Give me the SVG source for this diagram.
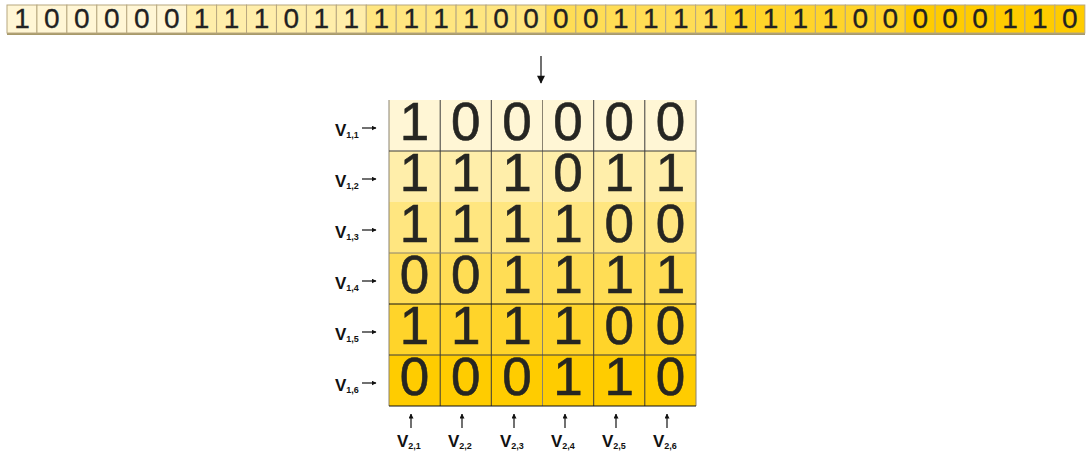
<svg xmlns="http://www.w3.org/2000/svg" width="1087" height="454" viewBox="0 0 1087 454">
<defs>
<style>
.c1{fill:#fff6d5}.c2{fill:#ffeeaa}.c3{fill:#ffe680}.c4{fill:#ffdd55}.c5{fill:#ffd42a}.c6{fill:#ffcc00}
.sc{stroke:#b8a880;stroke-width:1}
.mc{stroke:#3a3a3a;stroke-width:1}
.sd{font-family:"Liberation Sans",Arial,sans-serif;font-size:28px;fill:#222;stroke:#222;stroke-width:0.3;text-anchor:middle}
.md{font-family:"Liberation Sans",Arial,sans-serif;font-size:53px;fill:#262622;stroke:#262622;stroke-width:0.6;text-anchor:middle}
.lb{font-family:"Liberation Sans",Arial,sans-serif;font-size:17px;font-weight:bold;fill:#111}
.sb{font-size:9px}
.ar{stroke:#111;stroke-width:1.2;fill:none}
</style>
<marker id="ah" viewBox="0 0 10 10" refX="9" refY="5" markerWidth="5" markerHeight="5" orient="auto" markerUnits="userSpaceOnUse"><path d="M0,0 L10,5 L0,10 z" fill="#111"/></marker>
<marker id="ahb" viewBox="0 0 10 10" refX="9" refY="5" markerWidth="9" markerHeight="8" orient="auto" markerUnits="userSpaceOnUse"><path d="M0,0 L10,5 L0,10 z" fill="#111"/></marker>
</defs>

<g id="strip">
<rect x="7" y="33" width="1078" height="2" fill="#a89a6a"/>
<g class="sc">
<rect class="c1" x="7" y="5" width="29.94" height="28"/><rect class="c1" x="36.94" y="5" width="29.94" height="28"/><rect class="c1" x="66.88" y="5" width="29.94" height="28"/><rect class="c1" x="96.82" y="5" width="29.94" height="28"/><rect class="c1" x="126.76" y="5" width="29.94" height="28"/><rect class="c1" x="156.7" y="5" width="29.94" height="28"/>
<rect class="c2" x="186.64" y="5" width="29.94" height="28"/><rect class="c2" x="216.58" y="5" width="29.94" height="28"/><rect class="c2" x="246.52" y="5" width="29.94" height="28"/><rect class="c2" x="276.46" y="5" width="29.94" height="28"/><rect class="c2" x="306.4" y="5" width="29.94" height="28"/><rect class="c2" x="336.34" y="5" width="29.94" height="28"/>
<rect class="c3" x="366.28" y="5" width="29.94" height="28"/><rect class="c3" x="396.22" y="5" width="29.94" height="28"/><rect class="c3" x="426.16" y="5" width="29.94" height="28"/><rect class="c3" x="456.1" y="5" width="29.94" height="28"/><rect class="c3" x="486.04" y="5" width="29.94" height="28"/><rect class="c3" x="515.98" y="5" width="29.94" height="28"/>
<rect class="c4" x="545.92" y="5" width="29.94" height="28"/><rect class="c4" x="575.86" y="5" width="29.94" height="28"/><rect class="c4" x="605.8" y="5" width="29.94" height="28"/><rect class="c4" x="635.74" y="5" width="29.94" height="28"/><rect class="c4" x="665.68" y="5" width="29.94" height="28"/><rect class="c4" x="695.62" y="5" width="29.94" height="28"/>
<rect class="c5" x="725.56" y="5" width="29.94" height="28"/><rect class="c5" x="755.5" y="5" width="29.94" height="28"/><rect class="c5" x="785.44" y="5" width="29.94" height="28"/><rect class="c5" x="815.38" y="5" width="29.94" height="28"/><rect class="c5" x="845.32" y="5" width="29.94" height="28"/><rect class="c5" x="875.26" y="5" width="29.94" height="28"/>
<rect class="c6" x="905.2" y="5" width="29.94" height="28"/><rect class="c6" x="935.14" y="5" width="29.94" height="28"/><rect class="c6" x="965.08" y="5" width="29.94" height="28"/><rect class="c6" x="995.02" y="5" width="29.94" height="28"/><rect class="c6" x="1024.96" y="5" width="29.94" height="28"/><rect class="c6" x="1054.9" y="5" width="29.94" height="28"/>
</g>
<g class="sd">
<text x="22" y="28">1</text><text x="51.9" y="28">0</text><text x="81.9" y="28">0</text><text x="111.8" y="28">0</text><text x="141.7" y="28">0</text><text x="171.7" y="28">0</text>
<text x="201.6" y="28">1</text><text x="231.6" y="28">1</text><text x="261.5" y="28">1</text><text x="291.4" y="28">0</text><text x="321.4" y="28">1</text><text x="351.3" y="28">1</text>
<text x="381.3" y="28">1</text><text x="411.2" y="28">1</text><text x="441.1" y="28">1</text><text x="471.1" y="28">1</text><text x="501" y="28">0</text><text x="531" y="28">0</text>
<text x="560.9" y="28">0</text><text x="590.8" y="28">0</text><text x="620.8" y="28">1</text><text x="650.7" y="28">1</text><text x="680.7" y="28">1</text><text x="710.6" y="28">1</text>
<text x="740.5" y="28">1</text><text x="770.5" y="28">1</text><text x="800.4" y="28">1</text><text x="830.4" y="28">1</text><text x="860.3" y="28">0</text><text x="890.2" y="28">0</text>
<text x="920.2" y="28">0</text><text x="950.1" y="28">0</text><text x="980" y="28">0</text><text x="1010" y="28">1</text><text x="1039.9" y="28">1</text><text x="1069.9" y="28">0</text>
</g>
</g>

<g id="connectors">
<line class="ar" x1="541" y1="56" x2="541" y2="83" marker-end="url(#ahb)" stroke-width="2"/>
<line class="ar" x1="362" y1="128" x2="376" y2="128" marker-end="url(#ah)"/>
<line class="ar" x1="362" y1="179" x2="376" y2="179" marker-end="url(#ah)"/>
<line class="ar" x1="362" y1="230" x2="376" y2="230" marker-end="url(#ah)"/>
<line class="ar" x1="362" y1="281" x2="376" y2="281" marker-end="url(#ah)"/>
<line class="ar" x1="362" y1="332" x2="376" y2="332" marker-end="url(#ah)"/>
<line class="ar" x1="362" y1="383" x2="376" y2="383" marker-end="url(#ah)"/>
<line class="ar" x1="411" y1="428" x2="411" y2="414" marker-end="url(#ah)"/>
<line class="ar" x1="462" y1="428" x2="462" y2="414" marker-end="url(#ah)"/>
<line class="ar" x1="514" y1="428" x2="514" y2="414" marker-end="url(#ah)"/>
<line class="ar" x1="565" y1="428" x2="565" y2="414" marker-end="url(#ah)"/>
<line class="ar" x1="616" y1="428" x2="616" y2="414" marker-end="url(#ah)"/>
<line class="ar" x1="667" y1="428" x2="667" y2="414" marker-end="url(#ah)"/>
</g>

<g id="matrix">
<rect class="c1" x="389" y="100" width="307" height="51"/>
<rect class="c2" x="389" y="151" width="307" height="51"/>
<rect class="c3" x="389" y="202" width="307" height="51"/>
<rect class="c4" x="389" y="253" width="307" height="51"/>
<rect class="c5" x="389" y="304" width="307" height="51"/>
<rect class="c6" x="389" y="355" width="307" height="51"/>
<g class="mc">
<line x1="389" y1="100" x2="389" y2="406" stroke="#8a8270"/>
<line x1="440.2" y1="100" x2="440.2" y2="406"/>
<line x1="491.3" y1="100" x2="491.3" y2="406"/>
<line x1="542.5" y1="100" x2="542.5" y2="406" stroke="#8a8270"/>
<line x1="593.7" y1="100" x2="593.7" y2="406"/>
<line x1="644.8" y1="100" x2="644.8" y2="406"/>
<line x1="696" y1="100" x2="696" y2="406" stroke="#8a8270"/>
<line x1="389" y1="151" x2="696" y2="151"/>
<line x1="389" y1="253" x2="696" y2="253" stroke="#8a8270"/>
<line x1="389" y1="304" x2="696" y2="304" stroke="#111"/>
<line x1="389" y1="355" x2="696" y2="355"/>
<line x1="389" y1="406" x2="696" y2="406" stroke="#111"/>
</g>
<g class="md">
<text x="414.6" y="140">1</text><text x="465.8" y="140">0</text><text x="516.9" y="140">0</text><text x="568.1" y="140">0</text><text x="619.3" y="140">0</text><text x="670.4" y="140">0</text>
<text x="414.6" y="191">1</text><text x="465.8" y="191">1</text><text x="516.9" y="191">1</text><text x="568.1" y="191">0</text><text x="619.3" y="191">1</text><text x="670.4" y="191">1</text>
<text x="414.6" y="242">1</text><text x="465.8" y="242">1</text><text x="516.9" y="242">1</text><text x="568.1" y="242">1</text><text x="619.3" y="242">0</text><text x="670.4" y="242">0</text>
<text x="414.6" y="293">0</text><text x="465.8" y="293">0</text><text x="516.9" y="293">1</text><text x="568.1" y="293">1</text><text x="619.3" y="293">1</text><text x="670.4" y="293">1</text>
<text x="414.6" y="344">1</text><text x="465.8" y="344">1</text><text x="516.9" y="344">1</text><text x="568.1" y="344">1</text><text x="619.3" y="344">0</text><text x="670.4" y="344">0</text>
<text x="414.6" y="395">0</text><text x="465.8" y="395">0</text><text x="516.9" y="395">0</text><text x="568.1" y="395">1</text><text x="619.3" y="395">1</text><text x="670.4" y="395">0</text>
</g>
</g>

<g id="row-labels" class="lb">
<text x="335" y="136">V<tspan class="sb" dy="2">1,1</tspan></text>
<text x="335" y="187">V<tspan class="sb" dy="2">1,2</tspan></text>
<text x="335" y="238">V<tspan class="sb" dy="2">1,3</tspan></text>
<text x="335" y="289">V<tspan class="sb" dy="2">1,4</tspan></text>
<text x="335" y="340">V<tspan class="sb" dy="2">1,5</tspan></text>
<text x="335" y="391">V<tspan class="sb" dy="2">1,6</tspan></text>
</g>
<g id="col-labels" class="lb">
<text x="397" y="447">V<tspan class="sb" dy="2">2,1</tspan></text>
<text x="448" y="447">V<tspan class="sb" dy="2">2,2</tspan></text>
<text x="500" y="447">V<tspan class="sb" dy="2">2,3</tspan></text>
<text x="551" y="447">V<tspan class="sb" dy="2">2,4</tspan></text>
<text x="602" y="447">V<tspan class="sb" dy="2">2,5</tspan></text>
<text x="653" y="447">V<tspan class="sb" dy="2">2,6</tspan></text>
</g>
</svg>
